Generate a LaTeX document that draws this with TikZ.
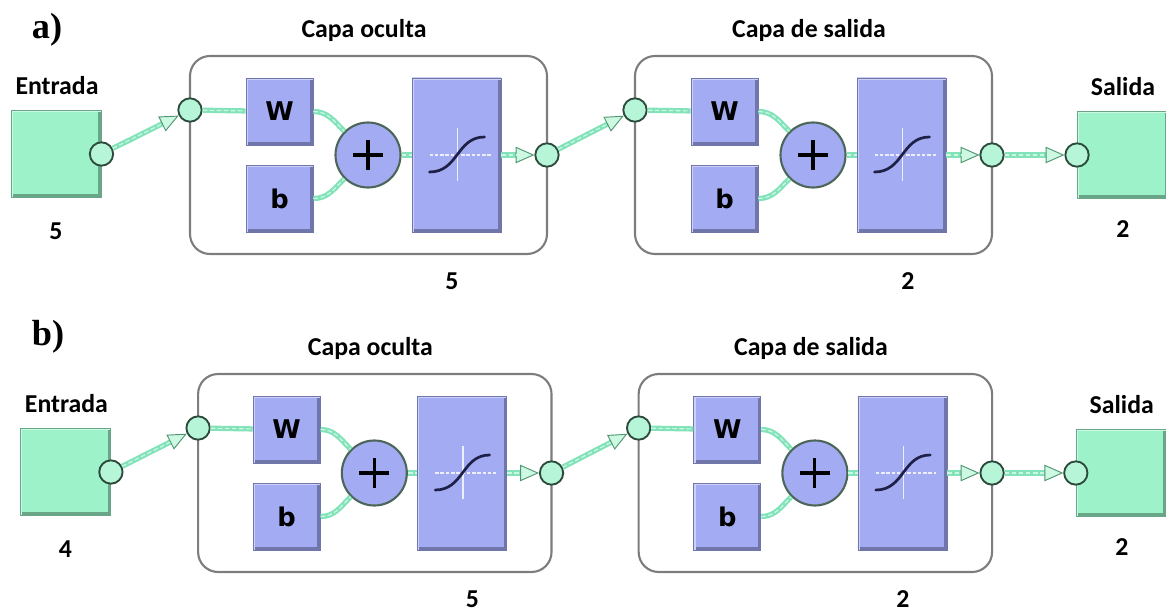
\documentclass[tikz,border=0pt]{standalone}
\usepackage{fontspec}
\setmainfont{Carlito}
\newfontfamily\panelfont{Liberation Serif}
\newfontfamily\blockfont{DejaVu Sans}
\usetikzlibrary{arrows.meta}
\definecolor{mintfill}{RGB}{158,242,202}
\definecolor{mintedge}{RGB}{105,165,135}
\definecolor{blufill}{RGB}{163,171,242}
\definecolor{bluedge}{RGB}{112,118,170}
\definecolor{linkc}{RGB}{130,226,185}
\definecolor{linkhi}{RGB}{205,248,226}
\definecolor{ringc}{RGB}{45,75,60}
\definecolor{tipc}{RGB}{80,150,115}
\definecolor{layerc}{RGB}{125,125,125}
\definecolor{curvec}{RGB}{30,32,70}
\begin{document}
\begin{tikzpicture}[x=0.03cm,y=-0.03cm,
  lbl/.style={font=\fontsize{22}{24}\selectfont\bfseries},
  panel/.style={font=\panelfont\fontsize{31}{34}\selectfont\bfseries},
  bevel/.style 2 args={path picture={
    \draw[#1, line width=5pt] (path picture bounding box.south west) -- (path picture bounding box.south east) -- (path picture bounding box.north east);
    \draw[#2, line width=3pt] (path picture bounding box.south west) -- (path picture bounding box.north west) -- (path picture bounding box.north east);}},
  iobox/.style={fill=mintfill, draw=mintedge, line width=0.8pt, minimum width=2.7cm, minimum height=2.6cm, inner sep=0pt, bevel={mintedge}{mintfill!55!white}},
  wbox/.style={fill=blufill, draw=bluedge, line width=0.8pt, minimum size=2.01cm, inner sep=0pt, font=\blockfont\fontsize{22}{24}\selectfont\bfseries, bevel={bluedge}{blufill!55!white}},
  tfbox/.style={fill=blufill, draw=bluedge, line width=0.8pt, minimum width=2.67cm, minimum height=4.62cm, inner sep=0pt, bevel={bluedge}{blufill!55!white}},
  sumc/.style={circle, fill=blufill, draw=ringc!85, line width=1.8pt, minimum size=1.95cm, inner sep=0pt},
  ring/.style={circle, fill=mintfill!75!white, draw=ringc, line width=1.6pt, minimum size=0.7cm, inner sep=0pt},
  layer/.style={draw=layerc, line width=1.8pt, rounded corners=0.6cm},
  hilite/.style={postaction={draw=linkhi, line width=1pt, dash pattern=on 4pt off 2pt, -, shorten >=#1}},
  hilite/.default=0pt,
  link/.style={draw=linkc, line width=4.5pt, hilite},
  alink/.style={draw=linkc, line width=4.5pt, hilite=16pt, -{Triangle[length=16pt, width=14pt, line width=0.8pt, color=tipc, fill=linkhi]}},
  cross/.style={draw=white!80!blufill, line width=1.5pt}]
\useasboundingbox (0,0) rectangle (1166,613);
\node[panel] at (47,30) {a)};
\node[panel] at (48,337) {b)};
\foreach \p/\dx/\dy/\sx/\nin/\ha/\hb in {a/0/0/1/5/452/463, b/10/318/0.99/4/467/457}{
\begin{scope}[shift={(\dx,\dy)}, xscale=\sx]
  \node[iobox] (in\p) at (56,154) {};
  \node[ring] (inc\p) at (in\p.east) {};
  \node[lbl] at (57,86) {Entrada};
  \node[lbl] at (56,231) {\nin};
  \foreach \k/\lx/\name/\hx/\num in {1/0/Capa oculta/\ha/5, 2/445/Capa de salida/\hb/2}{
  \begin{scope}[shift={(\lx,0)}]
    \draw[layer] (190,56) rectangle (547,254);
    \node[lbl] at (364,30) {\name};
    \node[lbl] at (\hx,281) {\num};
    \node[ring] (hin\p\k) at (190,110) {};
    \node[wbox] (w\p\k) at (279.5,111.5) {W};
    \node[wbox] (b\p\k) at (279.5,198.5) {b};
    \node[sumc] (s\p\k) at (368,155) {};
    \node[tfbox] (tf\p\k) at (456.5,155) {};
    \node[ring] (hout\p\k) at (547,155) {};
    \draw[link] (hin\p\k) -- (w\p\k);
    \draw[link] (w\p\k.east) to[out=0,in=135] (s\p\k);
    \draw[link] (b\p\k.east) to[out=0,in=-135] (s\p\k);
    \draw[link] (s\p\k) -- (tf\p\k);
    \draw[alink] (tf\p\k) -- (hout\p\k);
    \draw[black, line width=2.6pt] ([shift={(-15,0)}]s\p\k.center) -- ([shift={(15,0)}]s\p\k.center);
    \draw[black, line width=2.6pt] ([shift={(0,-15)}]s\p\k.center) -- ([shift={(0,15)}]s\p\k.center);
    \draw[cross] ([shift={(1,-27)}]tf\p\k.center) -- ([shift={(1,26)}]tf\p\k.center);
    \draw[cross, dash pattern=on 3pt off 1.5pt] ([shift={(-27,0)}]tf\p\k.center) -- ([shift={(34,0)}]tf\p\k.center);
    \draw[curvec, line width=2.3pt, line cap=round] ([shift={(-27,17)}]tf\p\k.center) .. controls ([shift={(2,17)}]tf\p\k.center) and ([shift={(0,-18)}]tf\p\k.center) .. ([shift={(28,-18)}]tf\p\k.center);
  \end{scope}}
  \node[iobox] (out\p) at (1122.5,155) {};
  \node[ring] (outc\p) at (out\p.west) {};
  \node[lbl] at (1123,87) {Salida};
  \node[lbl] at (1123,229) {2};
  \draw[alink] (inc\p) -- (hin\p1);
  \draw[alink] (hout\p1) -- (hin\p2);
  \draw[alink] (hout\p2) -- (outc\p);
\end{scope}}
\end{tikzpicture}
\end{document}
